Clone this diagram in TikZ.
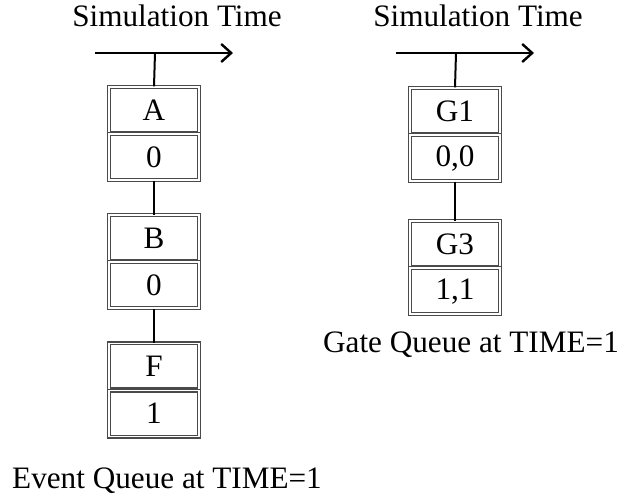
\documentclass[tikz,border=0pt]{standalone}
\usepackage{fontspec}
\setmainfont{Liberation Serif}
\usetikzlibrary{arrows.meta,positioning}
\definecolor{cellline}{HTML}{4A4A4A}

\begin{document}
\begin{tikzpicture}[
  x=0.5pt, y=-0.5pt,
  font=\fontsize{15.6}{18}\selectfont,
  cell/.style={draw=cellline, line width=0.55pt, double=white,
               double distance=0.9pt, fill=white, inner sep=0pt,
               minimum width=45pt, minimum height=23pt},
  tline/.style={-{Straight Barb[length=5pt, width=9pt]}, line width=1.2pt},
  link/.style={line width=1pt},
  ttl/.style={anchor=base, inner sep=0pt},
]
\useasboundingbox (0,0) rectangle (625,496);

% ---------------- event queue -----------------------------------------
\node[ttl] (evtime) at (177,27) {Simulation Time};
\coordinate (evs) at (95,53);
\coordinate (eve) at (233,53);
\coordinate (evj) at (155,53);
\draw[tline] (evs) -- (eve);

\node[cell] (A) at (154,110) {A};
\node[cell, below=0pt of A] (tA) {0};
\node[cell, below=17pt of tA] (B) {B};
\node[cell, below=0pt of B] (tB) {0};
\node[cell, below=17pt of tB] (F) {F};
\node[cell, below=0pt of F] (tF) {1};

\draw[link] (evj) -- (A.north);
\draw[link] (tA.south) -- (B.north);
\draw[link] (tB.south) -- (F.north);

\node[ttl] (evq) at (167,488) {Event Queue at TIME=1};

% ---------------- gate queue ------------------------------------------
\node[ttl] (gtime) at (478,27) {Simulation Time};
\coordinate (gs) at (396,53);
\coordinate (ge) at (534,53);
\coordinate (gj) at (456,53);
\draw[tline] (gs) -- (ge);

\node[cell] (G1) at (455,111) {G1};
\node[cell, below=0pt of G1] (tG1) {0,0};
\node[cell, below=19.5pt of tG1] (G3) {G3};
\node[cell, below=0pt of G3] (tG3) {1,1};

\draw[link] (gj) -- (G1.north);
\draw[link] (tG1.south) -- (G3.north);

\node[ttl] (gq) at (471,352) {Gate Queue at TIME=1};

\end{tikzpicture}
\end{document}
